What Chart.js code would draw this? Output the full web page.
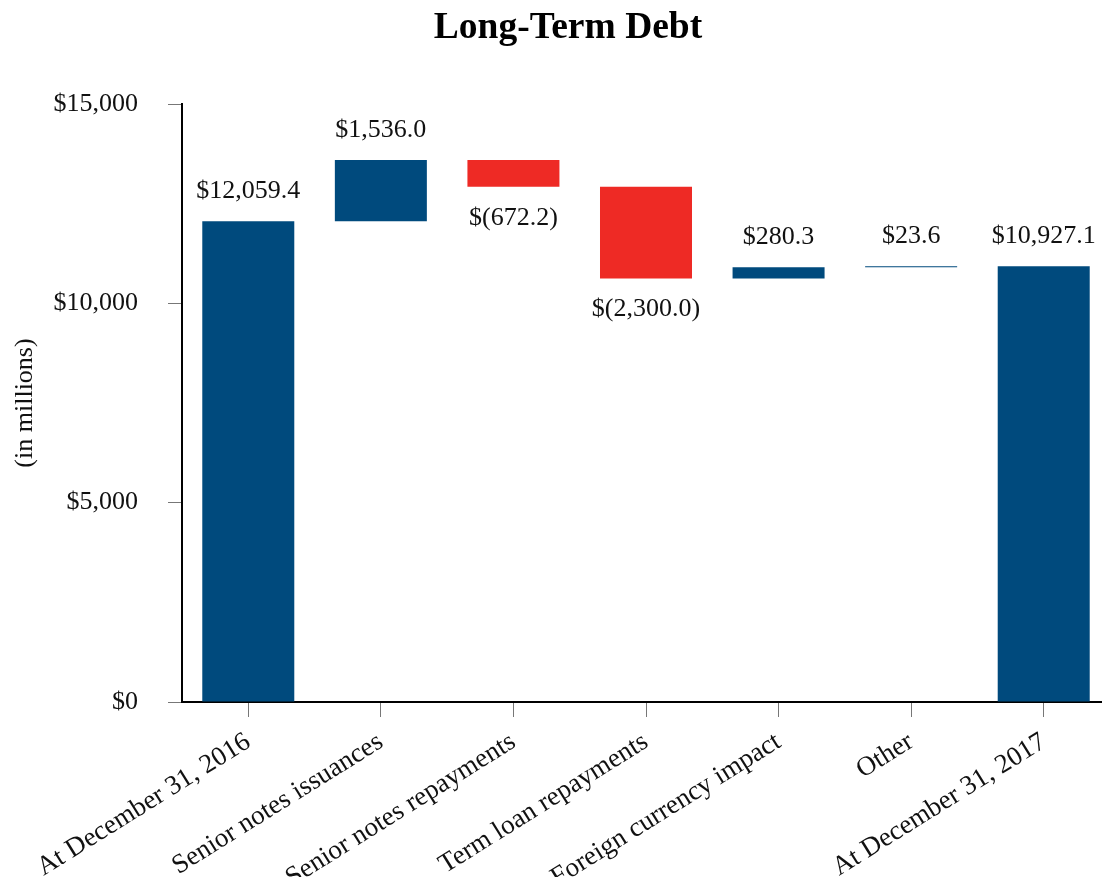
<!DOCTYPE html>
<html>
<head>
<meta charset="utf-8">
<script src="https://cdn.jsdelivr.net/npm/chart.js@4"></script>
<style>
  html, body { margin: 0; padding: 0; background: #fff; overflow: hidden; }
  #wrap { width: 1110px; height: 877px; }
</style>
</head>
<body>
<div id="wrap"><canvas id="c" width="1110" height="877"></canvas></div>
<script>
// ---- data ----
const categories = [
  'At December 31, 2016',
  'Senior notes issuances',
  'Senior notes repayments',
  'Term loan repayments',
  'Foreign currency impact',
  'Other',
  'At December 31, 2017'
];
const startTotal = 12059.4;
const changes = [1536.0, -672.2, -2300.0, 280.3, 23.6];
const endTotal = 10927.1;
const yTickValues = [0, 5000, 10000, 15000];

// ---- build floating bars from the data ----
const BLUE = '#004a7d';
const RED = '#ee2a25';
const floatData = [[0, startTotal]];
const labelValues = [startTotal];
const kinds = ['total'];
let running = startTotal;
changes.forEach(c => {
  const next = running + c;
  floatData.push([running, next]);
  labelValues.push(c);
  kinds.push(c < 0 ? 'neg' : 'pos');
  running = next;
});
floatData.push([0, endTotal]);
labelValues.push(endTotal);
kinds.push('total');
const colors = kinds.map(k => k === 'neg' ? RED : BLUE);

const FONT = "'Liberation Serif', 'Times New Roman', serif";

function fmt(v) {
  const s = Math.abs(v).toLocaleString('en-US', {minimumFractionDigits: 1, maximumFractionDigits: 1});
  return v < 0 ? '$(' + s + ')' : '$' + s;
}

const labelPlugin = {
  id: 'barLabels',
  afterDatasetsDraw(chart) {
    const ctx = chart.ctx;
    const meta = chart.getDatasetMeta(0);
    ctx.save();
    ctx.font = '26px ' + FONT;
    ctx.fillStyle = '#111';
    ctx.textAlign = 'center';
    ctx.textBaseline = 'middle';
    meta.data.forEach((bar, i) => {
      const top = Math.min(bar.y, bar.base);
      const bottom = Math.max(bar.y, bar.base);
      const v = labelValues[i];
      if (kinds[i] === 'neg') {
        ctx.fillText(fmt(v), bar.x, bottom + 31);
      } else {
        ctx.fillText(fmt(v), bar.x, top - 30);
      }
    });
    ctx.restore();
  }
};

new Chart(document.getElementById('c'), {
  type: 'bar',
  data: {
    labels: categories,
    datasets: [{
      data: floatData,
      backgroundColor: colors,
      borderWidth: 0,
      barPercentage: 0.694,
      categoryPercentage: 1.0
    }]
  },
  options: {
    responsive: false,
    devicePixelRatio: 1,
    animation: false,
    layout: { padding: { left: 26, right: 0, top: 0, bottom: 0 } },
    plugins: {
      legend: { display: false },
      tooltip: { enabled: false },
      title: {
        display: true,
        text: 'Long-Term Debt',
        color: '#000',
        font: { family: FONT, size: 37.5, weight: 'bold', lineHeight: 1.2 },
        padding: { top: 6, bottom: 53 }
      }
    },
    scales: {
      x: {
        border: { color: '#000', width: 2 },
        grid: { drawOnChartArea: false, offset: false, tickLength: 15, color: '#777', lineWidth: 1 },
        ticks: {
          color: '#111',
          font: { family: FONT, size: 27 },
          minRotation: 32,
          maxRotation: 32,
          padding: 9,
          autoSkip: false
        },
        afterFit(s) { s.height = 175; }
      },
      y: {
        min: 0,
        max: 15000,
        border: { color: '#000', width: 2 },
        grid: { drawOnChartArea: false, tickLength: 14, color: '#777', lineWidth: 1 },
        afterBuildTicks(s) { s.ticks = yTickValues.map(v => ({ value: v })); },
        ticks: {
          color: '#111',
          font: { family: FONT, size: 26 },
          padding: 30,
          callback: v => '$' + Number(v).toLocaleString('en-US')
        },
        title: {
          display: true,
          text: '(in millions)',
          color: '#111',
          font: { family: FONT, size: 26 },
          padding: { top: -16, bottom: 0 }
        },
        afterFit(s) { s.width = 156; }
      }
    }
  },
  plugins: [labelPlugin]
});
</script>
</body>
</html>
